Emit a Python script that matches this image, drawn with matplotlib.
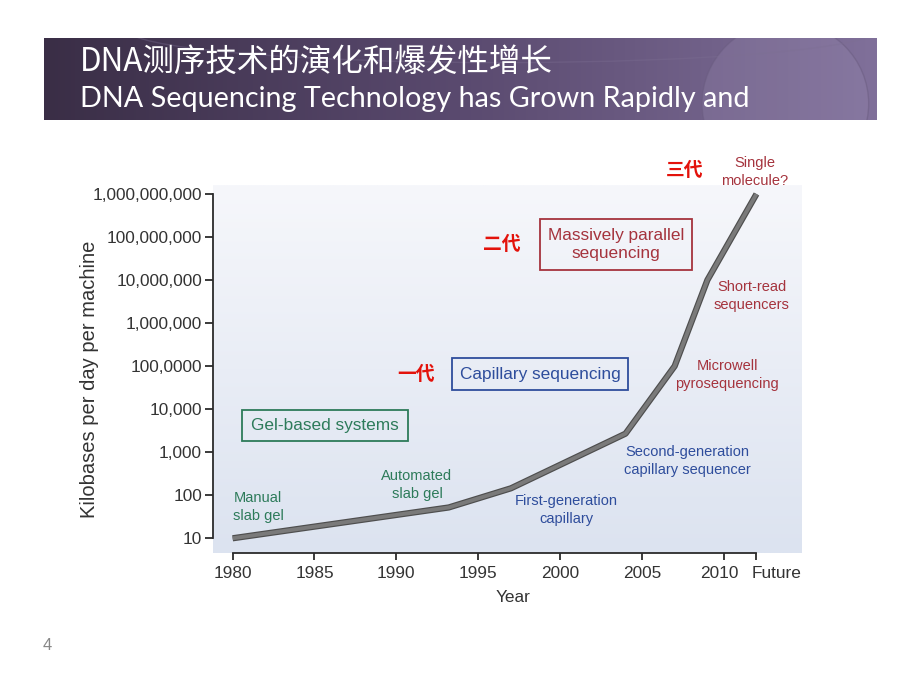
import numpy as np
import matplotlib
matplotlib.use("Agg")
import matplotlib.pyplot as plt
import matplotlib.patheffects as pe
import matplotlib.transforms as mtransforms
from matplotlib.patches import Rectangle, Ellipse

# ---------------- data ----------------
years = [1980, 1993.2, 1997, 2004, 2007, 2009, 2012]
kb_per_day = [10, 52, 145, 2700, 1e5, 1e7, 1e9]
xtick_pos = [1980, 1985, 1990, 1995, 2000, 2005, 2010, 2012]
xtick_labels = ["1980", "1985", "1990", "1995", "2000", "2005", "2010", "Future"]
ytick_pos = [10, 100, 1e3, 1e4, 1e5, 1e6, 1e7, 1e8, 1e9]
ytick_labels = ["10", "100", "1,000", "10,000", "100,0000", "1,000,000",
                "10,000,000", "100,000,000", "1,000,000,000"]

W, H = 920, 690
plt.rcParams['font.family'] = ['Liberation Sans', 'DejaVu Sans']
fig = plt.figure(figsize=(W / 100, H / 100), dpi=100)
fig.patch.set_facecolor('white')


def fp(x, y):
    return x / W, 1 - y / H


# ---------------- banner ----------------
bx0, by0, bx1, by1 = 44, 38, 877, 120
bax = fig.add_axes([bx0 / W, 1 - by1 / H, (bx1 - bx0) / W, (by1 - by0) / H])
bax.set_axis_off()
nx = 400
t = np.linspace(0, 1, nx)
c0 = np.array([0x3a, 0x2e, 0x46]) / 255
c1 = np.array([0x5a, 0x4a, 0x6f]) / 255
c2 = np.array([0x80, 0x70, 0x9a]) / 255
cols = np.where(t[:, None] < 0.5, c0 + (c1 - c0) * (t[:, None] / 0.5),
                c1 + (c2 - c1) * ((t[:, None] - 0.5) / 0.5))
img = np.tile(cols[None, :, :], (40, 1, 1))
bax.imshow(img, extent=[0, 1, 0, 1], aspect='auto', transform=bax.transAxes)
bax.set_xlim(0, 1)
bax.set_ylim(0, 1)
bax.add_patch(Ellipse((0.89, 0.2), 0.2, 2.0, color='#a093b8', alpha=0.22, lw=0))
bax.add_patch(Ellipse((0.89, 0.2), 0.2, 2.0, fill=False, ec='#6a5c80', lw=1.0, alpha=0.5))
bax.add_patch(Ellipse((0.55, 1.1), 0.9, 0.8, fill=False, ec='#7d6f93', lw=1.0, alpha=0.35))

fig.text(*fp(80, 62), "DNA测序技术的演化和爆发性增长", color='white',
         fontsize=22.7, va='center', ha='left',
         family=['Noto Sans CJK SC', 'DejaVu Sans'])
fig.text(*fp(80, 99), "DNA Sequencing Technology has Grown Rapidly and",
         color='white', fontsize=20.7, va='center', ha='left', family=['Lato', 'DejaVu Sans'])

# ---------------- main chart ----------------
ax_l, ax_r, ax_t, ax_b = 213, 802, 185, 553
pos = [ax_l / W, 1 - ax_b / H, (ax_r - ax_l) / W, (ax_b - ax_t) / H]

bg = fig.add_axes(pos, zorder=0)
bg.set_axis_off()
ny = 200
v = np.linspace(0, 1, ny)[:, None]
top = np.array([0xf6, 0xf7, 0xfb]) / 255
bot = np.array([0xdc, 0xe3, 0xf0]) / 255
grad = top + (bot - top) * v
grad = np.tile(grad[:, None, :], (1, 50, 1))
bg.imshow(grad, extent=[0, 1, 0, 1], aspect='auto')

ax = fig.add_axes(pos, zorder=1)
ax.set_facecolor('none')
ax.set_yscale('log')
ax.set_xlim(1978.8, 2014.78)
ax.set_ylim(10 ** 0.658, 10 ** 9.209)

ax.plot(years, kb_per_day, color='#7a7a7a', lw=2.8, solid_capstyle='butt',
        solid_joinstyle='round',
        path_effects=[pe.Stroke(linewidth=4.5, foreground='#4e4e4e'), pe.Normal()])

for s in ['top', 'right']:
    ax.spines[s].set_visible(False)
ax.spines['left'].set_bounds(10, 1e9)
ax.spines['bottom'].set_bounds(1980, 2012)
for s in ['left', 'bottom']:
    ax.spines[s].set_color('#2b2b2b')
    ax.spines[s].set_linewidth(1.3)

ax.set_yticks(ytick_pos)
ax.set_yticklabels(ytick_labels)
ax.yaxis.set_minor_locator(matplotlib.ticker.NullLocator())
ax.set_xticks(xtick_pos)
ax.set_xticklabels(xtick_labels)
ax.tick_params(axis='y', length=6, width=1.3, color='#2b2b2b', pad=2,
               labelsize=12.4, labelcolor='#333333')
ax.tick_params(axis='x', length=5, width=1.3, color='#2b2b2b', pad=4,
               labelsize=12.4, labelcolor='#333333')
xl = ax.get_xticklabels()
xl[-2].set_transform(xl[-2].get_transform() +
                     mtransforms.ScaledTranslation(-4 / 100, 0, fig.dpi_scale_trans))
xl[-1].set_horizontalalignment('left')
xl[-1].set_transform(xl[-1].get_transform() +
                     mtransforms.ScaledTranslation(-5 / 100, 0, fig.dpi_scale_trans))

fig.text(*fp(90, 379), "Kilobases per day per machine", rotation=90,
         fontsize=14.5, color='#333333', ha='center', va='center')
fig.text(*fp(513, 598), "Year", fontsize=12.4, color='#333333', ha='center', va='center')

# ---------------- annotations ----------------
red_cjk = dict(color='#e3120b', fontsize=13.5, fontweight='bold', ha='center', va='center',
               family=['Noto Sans CJK SC', 'DejaVu Sans'])
fig.text(*fp(685, 171), "三代", **red_cjk)
fig.text(*fp(502, 245), "二代", **red_cjk)
fig.text(*fp(416, 375), "一代", **red_cjk)

dred = '#a5333d'
blue = '#2e4d9c'
green = '#2d7b5a'
small = dict(fontsize=10.5, ha='center', va='center', linespacing=1.45)

fig.text(*fp(755, 172), "Single\nmolecule?", color=dred, **small)
fig.text(*fp(752, 296), "Short-read\nsequencers", color=dred, **small)
fig.text(*fp(727, 375), "Microwell\npyrosequencing", color=dred, **small)
fig.text(*fp(687, 461), "Second-generation\ncapillary sequencer", color=blue, **small)
fig.text(*fp(566, 510), "First-generation\ncapillary", color=blue, **small)
fig.text(*fp(417, 485), "Automated\nslab gel", color=green, **small)
fig.text(*fp(258, 507), "Manual\nslab gel", color=green, **small)


def box(x0, y0, x1, y1, color, text):
    fx, fy = fp(x0, y1)
    fig.add_artist(Rectangle((fx, fy), (x1 - x0) / W, (y1 - y0) / H,
                             transform=fig.transFigure, fill=False,
                             ec=color, lw=1.3, zorder=3))
    fig.text(*fp((x0 + x1) / 2, (y0 + y1) / 2), text, color=color, fontsize=12.4,
             ha='center', va='center', linespacing=1.3, zorder=4)


box(540, 219, 692, 270, dred, "Massively parallel\nsequencing")
box(452, 358, 628, 390, blue, "Capillary sequencing")
box(242, 410, 408, 441, green, "Gel-based systems")

fig.text(*fp(47, 645), "4", fontsize=12, color='#888888', ha='center', va='center')

fig.savefig("out.png", dpi=100, facecolor='white')
